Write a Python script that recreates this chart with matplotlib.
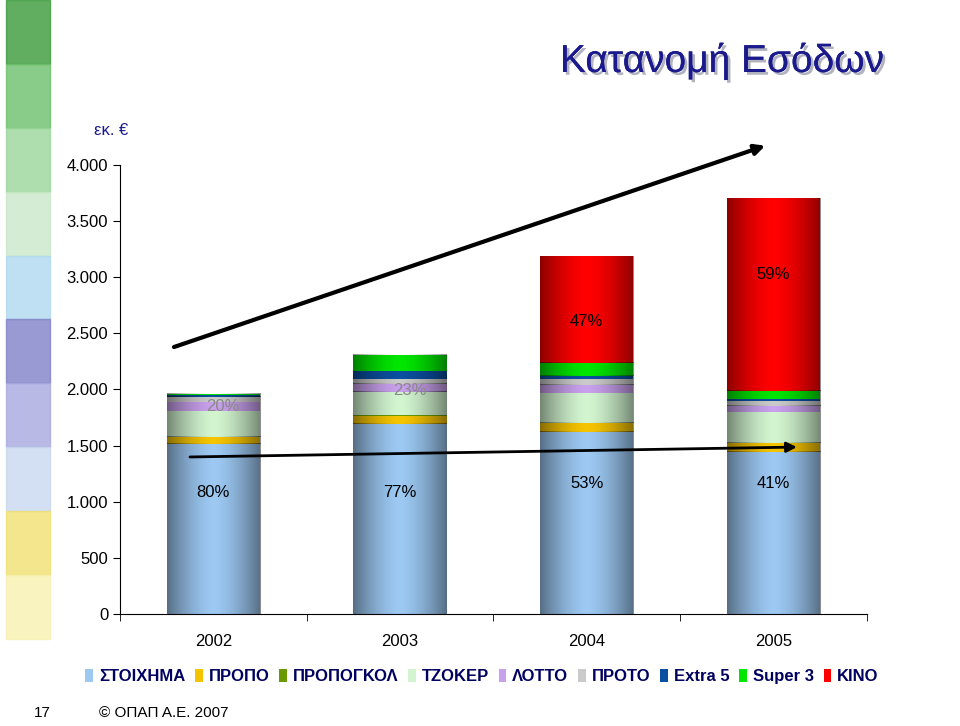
import matplotlib
matplotlib.use("Agg")
import matplotlib.pyplot as plt
import matplotlib.patheffects as pe
import numpy as np
from matplotlib.patches import Rectangle

plt.rcParams["font.family"] = ["Liberation Sans", "DejaVu Sans"]

years = ["2002", "2003", "2004", "2005"]
series = ["ΣΤΟΙΧΗΜΑ", "ΠΡΟΠΟ", "ΠΡΟΠΟΓΚΟΛ", "ΤΖΟΚΕΡ", "ΛΟΤΤΟ", "ΠΡΟΤΟ", "Extra 5", "Super 3", "ΚΙΝΟ"]
stoixima = [1514, 1693, 1621, 1443]
propo = [60, 71, 77, 80]
propogkol = [5, 5, 5, 5]
tzoker = [230, 207, 267, 270]
lotto = [80, 77, 74, 59]
proto = [45, 38, 45, 42]
extra5 = [15, 71, 30, 15]
super3 = [15, 143, 119, 77]
kino = [0, 0, 950, 1716]
low_pct = ["80%", "77%", "53%", "41%"]
mid_pct = ["20%", "23%", "", ""]
kino_pct = ["", "", "47%", "59%"]
yticks = [0, 500, 1000, 1500, 2000, 2500, 3000, 3500, 4000]
yticklabels = ["0", "500", "1.000", "1.500", "2.000", "2.500", "3.000", "3.500", "4.000"]

colors = ["#9cc8f2", "#f5c400", "#6a9a00", "#d2f5d0", "#c8a0ec", "#cacaca", "#0b4fa0", "#00e600", "#ff0000"]
data = [stoixima, propo, propogkol, tzoker, lotto, proto, extra5, super3, kino]

fig = plt.figure(figsize=(9.6, 7.26), dpi=100)
ax = fig.add_axes([0.125, 0.154, 0.778, 0.619])
x = np.arange(len(years))
bottom = np.zeros(len(years))
grad = np.abs(np.linspace(-1, 1, 100)) ** 1.6
mask = np.zeros((1, 100, 4)); mask[..., 3] = grad * 0.45
for vals, c, name in zip(data, colors, series):
    bars = ax.bar(x, vals, 0.5, bottom=bottom, color=c, label=name, zorder=2)
    for b in bars:
        if b.get_height() > 0:
            ax.imshow(mask, extent=(b.get_x(), b.get_x() + b.get_width(), b.get_y(), b.get_y() + b.get_height()),
                      aspect="auto", zorder=2.5, interpolation="bilinear")
    bottom += np.array(vals)

ax.set_xlim(-0.5, 3.5)
ax.set_ylim(0, 4000)
ax.set_yticks(yticks)
ax.set_yticklabels(yticklabels, fontsize=12)
ax.set_xticks(x)
ax.set_xticklabels(years, fontsize=12)
ax.tick_params(axis="x", length=0, pad=14)
ax.tick_params(axis="y", direction="out", length=5)
for s in ["top", "right"]:
    ax.spines[s].set_visible(False)
ax.set_xticks(np.arange(-0.5, 4, 1), minor=True)
ax.tick_params(axis="x", which="minor", direction="out", length=5)

low_y = [1087, 1087, 1167, 1160]
for i in range(4):
    ax.text(x[i], low_y[i], low_pct[i], ha="center", va="center", fontsize=12, zorder=4)
    if mid_pct[i]:
        ax.text(x[i] + 0.05, [1853, 1987][i], mid_pct[i], ha="center", va="center", fontsize=12,
                color="#8a8a8a", zorder=4)
    if kino_pct[i]:
        ax.text(x[i], [2601, 3020][i - 2], kino_pct[i], ha="center", va="center", fontsize=12, zorder=4)

ax.annotate("", xy=(2.97, 4178), xytext=(-0.225, 2370), annotation_clip=False,
            arrowprops=dict(arrowstyle="-|>", lw=3, color="black", mutation_scale=15), zorder=5)
ax.annotate("", xy=(3.14, 1488), xytext=(-0.14, 1399), annotation_clip=False,
            arrowprops=dict(arrowstyle="-|>", lw=2, color="black", mutation_scale=15), zorder=5)

fig.legend(loc="center", bbox_to_anchor=(0.502, 0.068), ncol=9, frameon=False,
           handlelength=0.45, handleheight=0.8, handletextpad=0.35, columnspacing=0.6,
           prop={"weight": "bold", "size": 12}, labelcolor="#000060")

fig.text(0.752, 0.916, "Κατανομή Εσόδων", fontsize=28, color="#1a1a8c", ha="center", va="center",
         path_effects=[pe.withSimplePatchShadow(offset=(2, -2), shadow_rgbFace="#a0a0b0", alpha=0.8), pe.Normal()])
fig.text(0.098, 0.814, "εκ. €", fontsize=12, color="#1a1a8c")
fig.text(0.035, 0.012, "17", fontsize=11)
fig.text(0.103, 0.012, "© ΟΠΑΠ Α.Ε. 2007", fontsize=11)

strip = ["#3a9a3a", "#6cc06c", "#9ad69a", "#c8e8c8", "#b0d8f0", "#8080c8", "#a8a8e0", "#c8d8f0", "#f0e070", "#f8f0b0"]
for k, c in enumerate(strip):
    fig.patches.append(Rectangle((0.006, 1 - (k + 1) * 0.088), 0.046, 0.088, transform=fig.transFigure,
                                 color=c, alpha=0.8, zorder=0))

fig.savefig("out.png", dpi=100)
